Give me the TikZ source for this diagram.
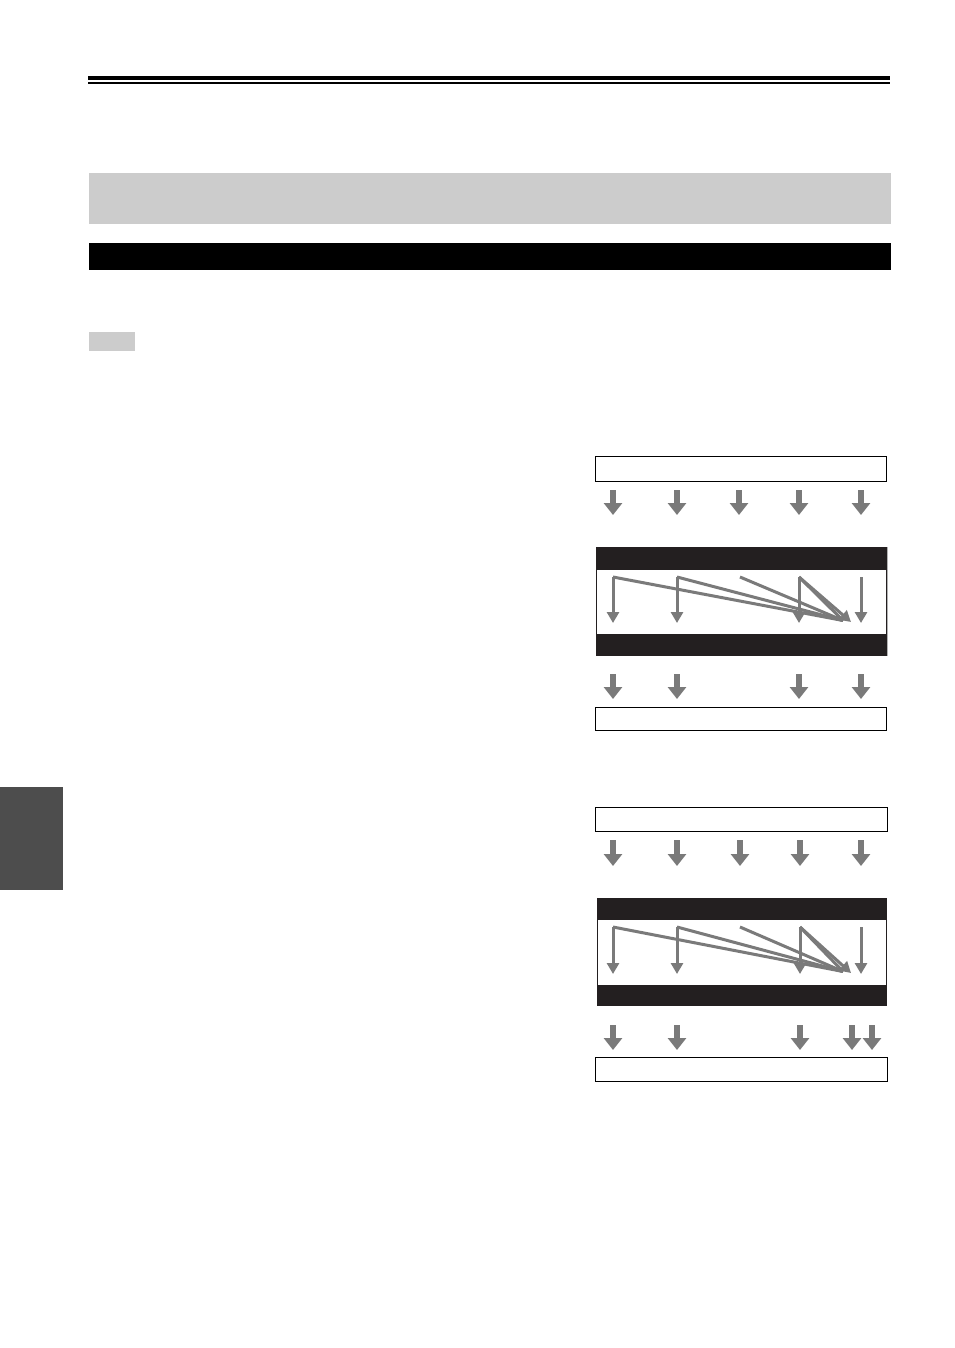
\documentclass[tikz,border=0pt]{standalone}
\usepackage{tikz}
\usetikzlibrary{arrows.meta, positioning, calc}

\definecolor{arrowgray}{RGB}{122,122,122}
\definecolor{bandblack}{RGB}{35,31,32}
\definecolor{headgray}{RGB}{204,204,204}
\definecolor{tabgray}{RGB}{77,77,77}

\tikzset{
    outbox/.style={draw=black, line width=1pt, fill=white, anchor=north west,
        inner sep=0pt, minimum width=291pt, minimum height=25pt},
    band/.style={fill=bandblack, anchor=north west, inner sep=0pt,
        minimum width=291pt, minimum height=109pt},
    window/.style={fill=white, draw=bandblack, line width=0.8pt, anchor=north west,
        inner sep=0pt, minimum width=290pt, minimum height=65pt},
    bigarrow/.style={arrowgray, line width=5.5pt, -{Triangle[width=18pt,length=12pt]}},
    smallarrow/.style={arrowgray, line width=3pt, -{Triangle[width=12pt,length=11pt]}},
    slant/.style={arrowgray, line width=3pt, line join=round}
}

\begin{document}
\begin{tikzpicture}[x=1pt, y=-1pt]
    \useasboundingbox (0,0) rectangle (954,1348);

    % Draw the page rules and bars
    \fill[black] (88,76) rectangle (890,80);
    \fill[black] (88,82.5) rectangle (890,83.8);
    \node[fill=headgray, anchor=north west, inner sep=0pt, minimum width=802pt, minimum height=51pt] (title) at (89,173) {};
    \node[fill=black, anchor=north west, inner sep=0pt, minimum width=802pt, minimum height=27pt] (section) at (89,243) {};
    \node[fill=headgray, anchor=north west, inner sep=0pt, minimum width=46pt, minimum height=19pt] (note) at (89,332) {};
    \node[fill=tabgray, anchor=north west, inner sep=0pt, minimum width=63pt, minimum height=103pt] (tab) at (0,787) {};

    % First diagram
    \node[outbox] (srcA) at (595,456) {};
    \foreach \x in {613,677,739,799,861} {
        \draw[bigarrow] (\x,490) -- (\x,515);
    }
    \node[band] (bandA) at (596,547) {};
    \node[window] (winA) at (596.4,569) {};
    \draw[gray!60, line width=0.8pt] (bandA.north east) -- (bandA.south east);
    \coordinate (tgtA) at (851,622);
    \foreach \x in {613,677,799,861} {
        \draw[smallarrow] (\x,577) -- (\x,623);
    }
    \foreach \x in {613,677,740,799} {
        \draw[slant] (\x,577) -- ($(tgtA)+(-8,-1.5)$);
    }
    \draw[smallarrow] (799,577) -- (tgtA);
    \foreach \x in {613,677,799,861} {
        \draw[bigarrow] (\x,674) -- (\x,699);
    }
    \node[outbox, minimum height=23pt] (outA) at (595,707) {};

    % Second diagram
    \node[outbox, minimum width=292pt, minimum height=24pt] (srcB) at (595,807) {};
    \foreach \x in {613,677,740,800,861} {
        \draw[bigarrow] (\x,840) -- (\x,866);
    }
    \node[band, minimum width=290pt, minimum height=108pt] (bandB) at (597,898) {};
    \node[window, minimum width=289pt, minimum height=66pt] (winB) at (597.4,919) {};
    \coordinate (tgtB) at (851,973);
    \foreach \x in {613,677,800,861} {
        \draw[smallarrow] (\x,927) -- (\x,974);
    }
    \foreach \x in {613,677,740,800} {
        \draw[slant] (\x,927) -- ($(tgtB)+(-8,-1.5)$);
    }
    \draw[smallarrow] (800,927) -- (tgtB);
    \foreach \x in {613,677,800,852,872} {
        \draw[bigarrow] (\x,1025) -- (\x,1050);
    }
    \node[outbox, minimum width=292pt, minimum height=24pt] (outB) at (595,1057) {};
\end{tikzpicture}
\end{document}
